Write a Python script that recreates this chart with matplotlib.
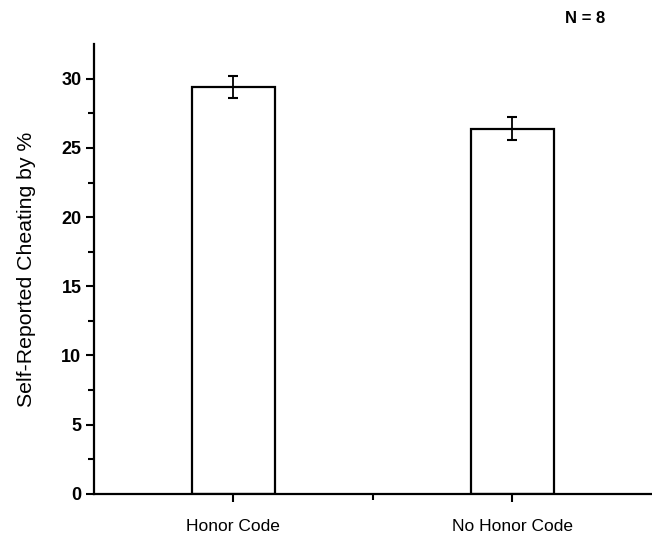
import numpy as np
import matplotlib.pyplot as plt

plt.rcParams['font.family'] = ['Liberation Sans', 'DejaVu Sans']

conditions = ['Honor Code', 'No Honor Code']
cheating_pct = [29.4, 26.4]
cheating_err = [0.8, 0.85]

fig = plt.figure(figsize=(6.52, 5.38), dpi=100)
ax = fig.add_axes([0.144, 0.082, 0.856, 0.836])

x = np.arange(1, len(conditions) + 1)
ax.bar(x, cheating_pct, width=0.3, color='white', edgecolor='black', linewidth=1.6)
ax.errorbar(x, cheating_pct, yerr=cheating_err, fmt='none', ecolor='black',
            elinewidth=1.3, capsize=3.6, capthick=1.5)

ax.set_xlim(0.5, 2.5)
ax.set_ylim(0, 32.5)
ax.set_xticks(x)
ax.set_xticklabels(conditions, fontsize=12.5)
ax.set_xticks([1.5], minor=True)
ax.set_yticks(np.arange(0, 31, 5))
ax.set_yticks(np.arange(2.5, 30, 5), minor=True)
ax.tick_params(axis='y', labelsize=13, width=1.5, length=6, pad=3)
for lbl in ax.get_yticklabels():
    lbl.set_fontweight('bold')
ax.tick_params(axis='x', width=1.5, length=6, pad=12)
ax.tick_params(which='minor', width=1.5, length=4)

for side in ['top', 'right']:
    ax.spines[side].set_visible(False)
for side in ['left', 'bottom']:
    ax.spines[side].set_linewidth(1.6)

ax.set_ylabel('Self-Reported Cheating by %', fontsize=15.3, labelpad=18)
fig.text(0.897, 0.966, 'N = 8', fontsize=12, fontweight='bold',
         ha='center', va='center')

fig.savefig('out.png', dpi=100)
